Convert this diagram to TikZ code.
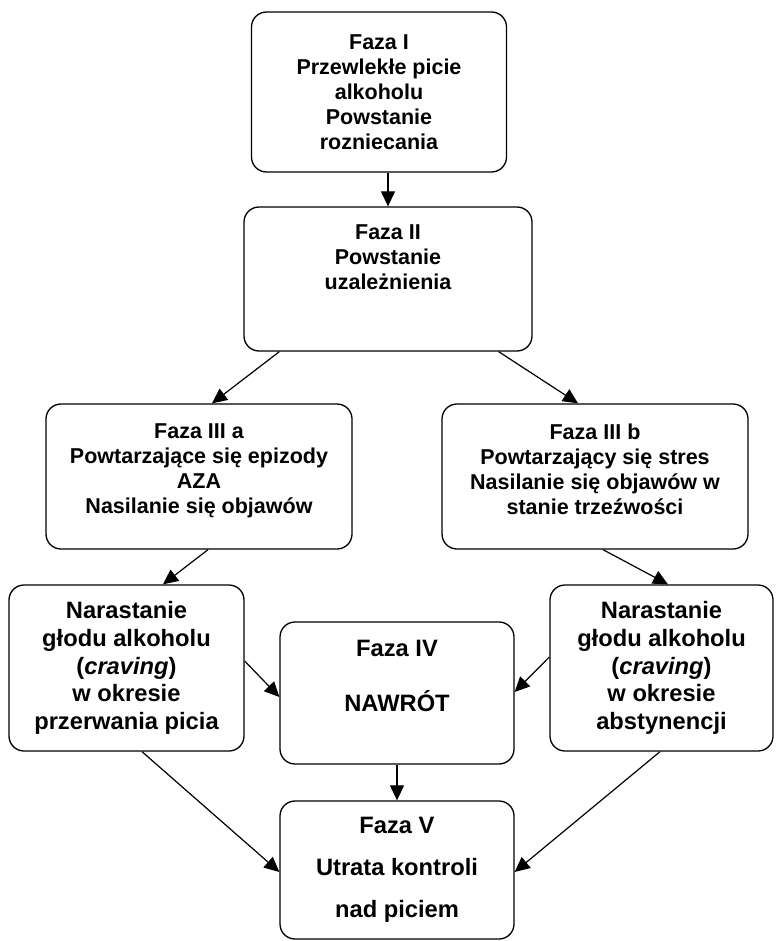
\documentclass[tikz,border=0pt]{standalone}
\usepackage{fontspec}
\setmainfont{Liberation Sans}
\usepackage{tikz}
\usetikzlibrary{calc,arrows.meta}

\begin{document}
\begin{tikzpicture}[x=1pt, y=-1pt,
  phase/.style={draw, line width=1.3pt, rounded corners=15pt, align=center,
    font=\fontsize{21.5}{25}\selectfont\bfseries},
  bigphase/.style={phase, font=\fontsize{23.7}{27.6}\selectfont\bfseries},
  arr/.style={line width=1.2pt, -{Triangle[length=15pt,width=14pt]}},
]
  \useasboundingbox (0,0) rectangle (777,941);

  \node[phase, minimum width=255, minimum height=160] (faza1) at (379,92)
    {Faza I\\Przewlekłe picie\\alkoholu\\Powstanie\\rozniecania};
  \node[phase, minimum width=288, minimum height=144] (faza2) at (388,279)
    {Faza II\\Powstanie\\uzależnienia\\[19pt]\mbox{}};
  \node[phase, minimum width=306, minimum height=145] (faza3a) at (199,476.5)
    {Faza III a\\Powtarzające się epizody\\AZA\\Nasilanie się objawów\\[-10pt]\mbox{}};
  \node[phase, minimum width=306, minimum height=145] (faza3b) at (595,476.5)
    {Faza III b\\Powtarzający się stres\\Nasilanie się objawów w\\stanie trzeźwości\\[-10pt]\mbox{}};
  \node[bigphase, minimum width=235, minimum height=166] (glodA) at (126.5,668)
    {Narastanie\\głodu alkoholu\\(\textit{craving})\\w okresie\\przerwania picia};
  \node[bigphase, minimum width=223, minimum height=166] (glodB) at (661.5,668)
    {Narastanie\\głodu alkoholu\\(\textit{craving})\\w okresie\\abstynencji};
  \node[bigphase, minimum width=234, minimum height=142] (faza4) at (397,693)
    {Faza IV\\[27.4pt]NAWRÓT\\[7.4pt]\mbox{}};
  \node[bigphase, minimum width=234, minimum height=138] (faza5) at (397,870)
    {Faza V\\[14.4pt]Utrata kontroli\\[14.4pt]nad piciem};

  \draw[arr] (faza1.south -| faza2.north) -- (faza2.north);
  \draw[arr] ($(faza2.south west)+(36,0)$) -- ($(faza3a.north)+(13,0)$);
  \draw[arr] ($(faza2.south east)+(-34,0)$) -- ($(faza3b.north)+(-17,0)$);
  \draw[arr] ($(faza3a.south)+(9,0)$) -- ($(glodA.north)+(36.5,0)$);
  \draw[arr] ($(faza3b.south)+(8,0)$) -- ($(glodB.north)+(6.5,0)$);
  \draw[arr] ($(glodA.east)+(0,-7)$) -- ($(faza4.west)+(0,4)$);
  \draw[arr] ($(glodB.west)+(0,-11)$) -- ($(faza4.east)+(0,-1)$);
  \draw[arr] (faza4.south) -- (faza5.north);
  \draw[arr] ($(glodA.south)+(15.5,0)$) -- ($(faza5.west)+(0,2)$);
  \draw[arr] ($(glodB.south)+(-1.5,0)$) -- ($(faza5.east)+(0,2)$);
\end{tikzpicture}
\end{document}
